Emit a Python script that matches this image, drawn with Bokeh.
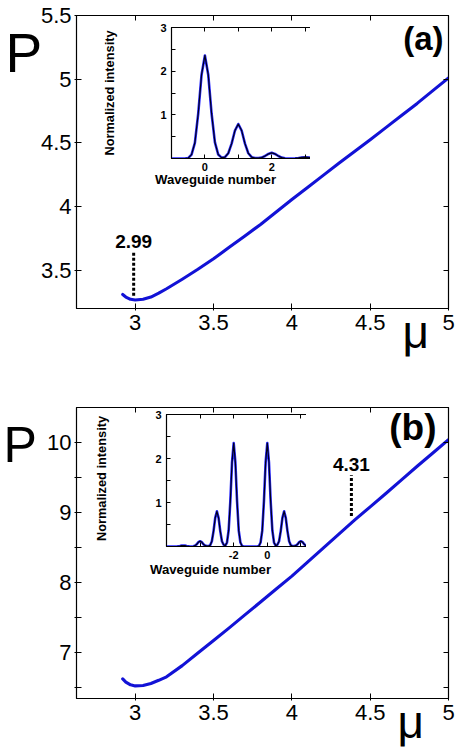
from bokeh.plotting import figure
from bokeh.models import FixedTicker, LinearAxis, Label, CustomJSTickFormatter, Range1d
from bokeh.layouts import column, row
from bokeh.core.properties import value
from bokeh.embed import file_html
from bokeh.resources import INLINE
import numpy as np

FONT = "Liberation Sans"

# ---------------- data ----------------
# panel (a): P versus mu
mu_a = [2.92, 2.94, 2.97, 3.00, 3.05, 3.10, 3.15, 3.20, 3.30, 3.40, 3.50, 3.60, 3.70,
        3.80, 3.90, 4.00, 4.10, 4.20, 4.30, 4.40, 4.50, 4.60, 4.70, 4.80, 4.90, 5.00]
P_a = [3.31, 3.29, 3.272, 3.267, 3.272, 3.29, 3.32, 3.355, 3.43, 3.508, 3.59, 3.68, 3.77,
       3.86, 3.958, 4.055, 4.15, 4.245, 4.34, 4.432, 4.525, 4.62, 4.715, 4.81, 4.91, 5.01]
# panel (b): P versus mu
mu_b = [2.92, 2.94, 2.97, 3.00, 3.05, 3.10, 3.15, 3.20, 3.30, 3.40, 3.50, 3.60, 3.70,
        3.80, 3.90, 4.00, 4.10, 4.20, 4.30, 4.40, 4.50, 4.60, 4.70, 4.80, 4.90, 5.00]
P_b = [6.62, 6.575, 6.535, 6.52, 6.525, 6.555, 6.60, 6.65, 6.81, 6.99, 7.17, 7.35, 7.535,
       7.72, 7.905, 8.09, 8.29, 8.49, 8.69, 8.89, 9.08, 9.27, 9.465, 9.66, 9.85, 10.04]

# annotations
mark_a_x = [2.99]
mark_a_lo = [3.30]
mark_a_hi = [3.64]
mark_a_txt_y = [3.725]
mark_a_text = ["2.99"]
mark_b_x = [4.38]
mark_b_lo = [8.95]
mark_b_hi = [9.53]
mark_b_txt_y = [9.68]
mark_b_text = ["4.31"]

# insets: normalized intensity vs waveguide number
wg_a = np.round(np.arange(-1.0, 4.0001, 0.1), 1)
int_a = [0, 0, 0, 0, 0.0, 0.01, 0.09, 0.36, 1.03, 1.92,
         2.36, 1.92, 1.03, 0.37, 0.09, 0.02, 0.03, 0.12, 0.34, 0.64,
         0.79, 0.64, 0.34, 0.12, 0.03, 0.01, 0.01, 0.02, 0.057, 0.105,
         0.13, 0.105, 0.057, 0.02, 0.005, 0.0, 0.0, 0.005, 0.013, 0.024,
         0.03, 0.024, 0.013, 0.005, 0, 0, 0, 0, 0, 0, 0]
wg_b = np.round(np.arange(-6.0, 4.0001, 0.1), 1)
int_b = [0, 0, 0, 0, 0, 0, 0, 0.005, 0.01, 0.02,
         0.02, 0.02, 0.01, 0.005, 0, 0, 0.005, 0.02, 0.05, 0.10,
         0.12, 0.10, 0.05, 0.02, 0.01, 0.01, 0.03, 0.12, 0.35, 0.65,
         0.80, 0.65, 0.35, 0.12, 0.04, 0.02, 0.09, 0.37, 1.03, 1.91,
         2.35, 1.91, 1.03, 0.36, 0.09, 0.01, 0, 0, 0, 0,
         0, 0, 0, 0, 0, 0.01, 0.09, 0.36, 1.03, 1.91,
         2.35, 1.91, 1.03, 0.37, 0.09, 0.02, 0.04, 0.12, 0.35, 0.65,
         0.80, 0.65, 0.35, 0.12, 0.03, 0.01, 0.01, 0.02, 0.05, 0.10,
         0.12, 0.10, 0.05, 0.02, 0.005, 0, 0, 0.005, 0.01, 0.02,
         0.02, 0.02, 0.01, 0.005, 0, 0, 0, 0, 0, 0, 0]

# ticks
xt_main = [3, 3.5, 4, 4.5, 5]
yt_a = [3.5, 4, 4.5, 5, 5.5]
yt_b = [7, 8, 9, 10]
yt_b_minor = [6.5, 7.5, 8.5, 9.5]
xt_ins_a, xt_ins_a_minor = [0, 2], [1, 3]
xt_ins_b, xt_ins_b_minor = [-2, 0], [-4, 2]
yt_ins, yt_ins_minor = [1, 2, 3], [0.5, 1.5, 2.5]

# texts
y_title = "P"
x_title = "μ"
ins_x_title = "Waveguide number"
ins_y_title = "Normalized intensity"

BLUE = "#1212d6"

num_fmt = CustomJSTickFormatter(code="return tick.toString();")


def blank():
    return CustomJSTickFormatter(code="return '';")


def style_axis(ax, size, bold=False, labels=True, tin=5, tout=2, standoff=4):
    ax.axis_line_color = "black"
    ax.major_tick_line_color = "black"
    ax.minor_tick_line_color = "black"
    ax.major_tick_in = tin
    ax.major_tick_out = tout
    ax.minor_tick_in = tin
    ax.minor_tick_out = tout
    ax.major_label_text_font = FONT
    ax.major_label_text_color = "black"
    ax.major_label_text_font_style = "bold" if bold else "normal"
    if labels:
        ax.major_label_text_font_size = size
        ax.major_label_standoff = standoff
    else:
        ax.major_label_text_font_size = "1px"
        ax.major_label_standoff = 0


def main_panel(mu, P, xr, yr, yt, yt_minor, left, top, fh, bottom, mx, mlo, mhi, mty, mtext):
    p = figure(frame_width=372, frame_height=fh, x_range=Range1d(*xr), y_range=Range1d(*yr),
               min_border_left=left, min_border_right=456 - left - 372,
               min_border_top=top, min_border_bottom=bottom,
               output_backend="svg", toolbar_location=None)
    p.xgrid.visible = False
    p.ygrid.visible = False
    p.outline_line_color = "black"
    p.outline_line_width = 1.2
    p.background_fill_color = "white"
    p.border_fill_color = "white"
    p.xaxis.ticker = FixedTicker(ticks=xt_main, minor_ticks=[])
    p.yaxis.ticker = FixedTicker(ticks=yt, minor_ticks=yt_minor)
    p.xaxis.formatter = num_fmt
    p.yaxis.formatter = num_fmt
    style_axis(p.xaxis[0], "22px", standoff=4)
    style_axis(p.yaxis[0], "22px", standoff=3)
    top_ax = LinearAxis(ticker=FixedTicker(ticks=xt_main, minor_ticks=[]), formatter=blank())
    right_ax = LinearAxis(ticker=FixedTicker(ticks=yt, minor_ticks=yt_minor), formatter=blank())
    style_axis(top_ax, "1px", labels=False, tout=0)
    style_axis(right_ax, "1px", labels=False, tout=0)
    p.add_layout(top_ax, "above")
    p.add_layout(right_ax, "right")

    p.line(mu, P, line_color=BLUE, line_width=3.1, line_cap="round", line_join="round")
    p.segment(x0=mx, y0=mlo, x1=mx, y1=mhi, line_color="black", line_width=3, line_dash="3 2")
    p.text(x=mx, y=mty, text=mtext, text_font=value(FONT), text_font_style="bold",
           text_font_size="19px", text_align="center", text_baseline="middle", text_color="black")
    return p


def inset(wg, inten, xr, xt, xt_minor, fw, fh, margin):
    q = figure(frame_width=fw, frame_height=fh, x_range=Range1d(*xr), y_range=Range1d(0, 3),
               min_border_left=40, min_border_right=8, min_border_top=5, min_border_bottom=37,
               output_backend="svg", toolbar_location=None, margin=margin)
    q.xgrid.visible = False
    q.ygrid.visible = False
    q.outline_line_color = "black"
    q.outline_line_width = 1.2
    q.background_fill_color = "white"
    q.border_fill_alpha = 0
    q.xaxis.ticker = FixedTicker(ticks=xt, minor_ticks=xt_minor)
    q.yaxis.ticker = FixedTicker(ticks=yt_ins, minor_ticks=yt_ins_minor)
    q.xaxis.formatter = num_fmt
    q.yaxis.formatter = num_fmt
    style_axis(q.xaxis[0], "11px", bold=True, tin=4, tout=0, standoff=4)
    style_axis(q.yaxis[0], "11px", bold=True, tin=4, tout=0, standoff=5)
    ta = LinearAxis(ticker=FixedTicker(ticks=xt, minor_ticks=xt_minor), formatter=blank())
    ra = LinearAxis(ticker=FixedTicker(ticks=yt_ins, minor_ticks=yt_ins_minor), formatter=blank())
    style_axis(ta, "1px", labels=False, tin=4, tout=0)
    style_axis(ra, "1px", labels=False, tin=4, tout=0)
    q.add_layout(ta, "above")
    q.add_layout(ra, "right")
    q.line(wg, inten, line_color="#2a2aff", line_width=2.6, line_join="round")
    q.line(wg, inten, line_color="#00001a", line_width=1.2, line_join="round")
    return q


def overlay(h):
    """Transparent full-panel layer (pixel coordinates) that carries the free texts."""
    o = figure(frame_width=456, frame_height=h, x_range=Range1d(0, 456), y_range=Range1d(h, 0),
               min_border_left=0, min_border_right=0, min_border_top=0, min_border_bottom=0,
               output_backend="svg", toolbar_location=None,
               x_axis_location=None, y_axis_location=None)
    o.grid.visible = False
    o.outline_line_color = None
    o.background_fill_alpha = 0
    o.border_fill_alpha = 0
    return o


def put(o, x, y, text, size, bold=False, align="left", angle=0.0):
    o.text(x=[x], y=[y], text=[text], text_font=value(FONT), text_font_size=size,
           text_font_style="bold" if bold else "normal", text_align=align,
           text_baseline="middle", text_color="black", angle=angle)


# panel a
pa = main_panel(mu_a, P_a, (2.625, 5.0), (3.2, 5.5), yt_a, [], 76, 15, 293, 72,
                mark_a_x, mark_a_lo, mark_a_hi, mark_a_txt_y, mark_a_text)
pa.add_layout(Label(x=5.0, y=5.5, text="(a)", text_font=FONT, text_font_size="33px",
                    text_font_style="bold", text_align="right", text_baseline="top",
                    x_offset=-5, y_offset=-4, text_color="black"))
ia = inset(wg_a, int_a, (-1, 4), xt_ins_a, xt_ins_a_minor, 167, 131,
           margin=(22 - 380, 0, 380 - (22 + 173), 95))
oa = overlay(380)
put(oa, 5, 52.5, y_title, "55px")
put(oa, 402, 331, x_title, "46px")
put(oa, 215, 179, ins_x_title, "13.2px", bold=True, align="center")
put(oa, 109, 92.5, ins_y_title, "12.8px", bold=True, align="center", angle=np.pi / 2)
oa_box = row(oa, margin=(-380, 0, 0, 0))

# panel b
pb = main_panel(mu_b, P_b, (2.625, 5.0), (6.34, 10.5), yt_b, yt_b_minor, 75, 27, 291, 53,
                mark_b_x, mark_b_lo, mark_b_hi, mark_b_txt_y, mark_b_text)
pb.add_layout(Label(x=5.0, y=10.5, text="(b)", text_font=FONT, text_font_size="37px",
                    text_font_style="bold", text_align="right", text_baseline="top",
                    x_offset=-12, y_offset=1, text_color="black"))
ib = inset(wg_b, int_b, (-6, 4), xt_ins_b, xt_ins_b_minor, 168, 132,
           margin=(29 - 371, 0, 371 - (29 + 174), 90))
ob = overlay(371)
put(ob, 3, 64.5, y_title, "50px")
put(ob, 397, 341, x_title, "46px")
put(ob, 210, 189, ins_x_title, "13.2px", bold=True, align="center")
put(ob, 101, 98, ins_y_title, "12.8px", bold=True, align="center", angle=np.pi / 2)
ob_box = row(ob, margin=(-371, 0, 0, 0))

layout = column(pa, ia, oa_box, pb, ib, ob_box, spacing=0)
open("out.html", "w").write(file_html(layout, INLINE))
